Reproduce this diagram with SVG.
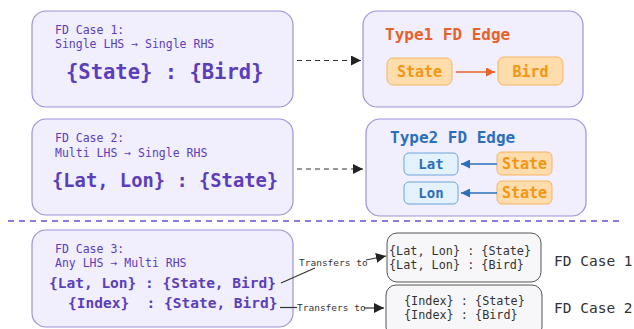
<svg xmlns="http://www.w3.org/2000/svg" width="634" height="329" viewBox="0 0 634 329">
<defs>
<style>
.mono{font-family:"DejaVu Sans Mono","Liberation Mono",monospace}
.case{fill:#f1eefd;stroke:#9f92d8;stroke-width:1.2}
.ptxt{fill:#5a3ebc}
.big{font-weight:bold}
.small{font-size:11.5px}
.orn{fill:#ffdcab;stroke:#f7b463;stroke-width:1}
.orntxt{fill:#f39612;font-weight:bold;font-size:15px}
.blu{fill:#e3f2fd;stroke:#6ea4dc;stroke-width:1}
.blutxt{fill:#2b6fbd;font-weight:bold;font-size:14px}
.res{fill:#f7f7fa;stroke:#555;stroke-width:1}
.restxt{fill:#333;font-size:11.8px}
.lbl{fill:#333;font-size:9.5px}
.conn{stroke:#333;stroke-width:1.2;fill:none}
</style>
<marker id="ah" viewBox="0 0 10 10" refX="10" refY="5" markerWidth="10" markerHeight="10" markerUnits="userSpaceOnUse" orient="auto"><path d="M0,0L10,5L0,10z" fill="#222"/></marker>
<marker id="ahO" viewBox="0 0 10 10" refX="10" refY="5" markerWidth="9" markerHeight="9" markerUnits="userSpaceOnUse" orient="auto"><path d="M0,0L10,5L0,10z" fill="#e8622a"/></marker>
<marker id="ahB" viewBox="0 0 10 10" refX="10" refY="5" markerWidth="9" markerHeight="9" markerUnits="userSpaceOnUse" orient="auto"><path d="M0,0L10,5L0,10z" fill="#2b6fbd"/></marker>
</defs>

<g id="case1">
<rect class="case" x="32" y="11" width="261" height="96" rx="14"/>
<text class="mono ptxt small" x="55" y="34">FD Case 1:</text>
<text class="mono ptxt small" x="55" y="48">Single LHS → Single RHS</text>
<text class="mono ptxt big" x="66" y="79" font-size="20.5">{State} : {Bird}</text>
</g>

<g id="type1">
<rect class="case" x="363" y="11" width="220" height="96" rx="14"/>
<text class="mono big" x="385" y="40" font-size="16" fill="#e6622b">Type1 FD Edge</text>
<g id="t1state"><rect class="orn" x="387" y="58" width="65" height="27" rx="6"/><text class="mono orntxt" x="419.5" y="77" text-anchor="middle">State</text></g>
<g id="t1bird"><rect class="orn" x="498" y="57" width="65" height="28" rx="6"/><text class="mono orntxt" x="530.5" y="77" text-anchor="middle">Bird</text></g>
</g>

<g id="case2">
<rect class="case" x="32" y="119" width="261" height="96" rx="14"/>
<text class="mono ptxt small" x="55" y="142">FD Case 2:</text>
<text class="mono ptxt small" x="55" y="157">Multi LHS → Single RHS</text>
<text class="mono ptxt big" x="52" y="187" font-size="18.8">{Lat, Lon} : {State}</text>
</g>

<g id="type2">
<rect class="case" x="366" y="119" width="220" height="97" rx="14"/>
<text class="mono big" x="390" y="143" font-size="16" fill="#2b6fbd">Type2 FD Edge</text>
<g id="t2lat"><rect class="blu" x="404" y="153" width="54" height="22" rx="5"/><text class="mono blutxt" x="431" y="169" text-anchor="middle">Lat</text></g>
<g id="t2lon"><rect class="blu" x="404" y="182" width="54" height="22" rx="5"/><text class="mono blutxt" x="431" y="198" text-anchor="middle">Lon</text></g>
<g id="t2s1"><rect class="orn" x="497" y="152" width="55" height="23" rx="5"/><text class="mono orntxt" x="524.5" y="169" text-anchor="middle" font-size="14">State</text></g>
<g id="t2s2"><rect class="orn" x="497" y="181" width="55" height="23" rx="5"/><text class="mono orntxt" x="524.5" y="198" text-anchor="middle" font-size="14">State</text></g>
</g>

<line x1="8" y1="221" x2="622" y2="221" stroke="#6a4fcf" stroke-width="1.6" stroke-dasharray="6,5"/>

<g id="case3">
<rect class="case" x="32" y="230" width="261" height="97" rx="14"/>
<text class="mono ptxt small" x="55" y="253">FD Case 3:</text>
<text class="mono ptxt small" x="55" y="267">Any LHS → Multi RHS</text>
<text class="mono ptxt big" x="49" y="288" font-size="14.5">{Lat, Lon} : {State, Bird}</text>
<text class="mono ptxt big" x="68" y="308" font-size="14.5" xml:space="preserve">{Index}  : {State, Bird}</text>
</g>

<g id="res1">
<rect class="res" x="387" y="233" width="154" height="49" rx="10"/>
<text class="mono restxt" x="389" y="255">{Lat, Lon} : {State}</text>
<text class="mono restxt" x="389" y="269">{Lat, Lon} : {Bird}</text>
</g>
<g id="res2">
<rect class="res" x="386" y="285" width="156" height="52" rx="10"/>
<text class="mono restxt" x="404" y="305">{Index} : {State}</text>
<text class="mono restxt" x="404" y="319">{Index} : {Bird}</text>
</g>

<text id="fdc1" class="mono" x="554" y="266" font-size="14.5" fill="#333">FD Case 1</text>
<text id="fdc2" class="mono" x="554" y="313" font-size="14.5" fill="#333">FD Case 2</text>

<g id="connectors">
<line class="conn" x1="297" y1="60.5" x2="361" y2="60.5" stroke="#222" stroke-dasharray="5,4" marker-end="url(#ah)"/>
<line class="conn" x1="297" y1="169" x2="363" y2="169" stroke="#222" stroke-dasharray="5,4" marker-end="url(#ah)"/>
<line x1="456" y1="72" x2="495" y2="72" stroke="#e8622a" stroke-width="1.3" marker-end="url(#ahO)"/>
<line x1="497" y1="164" x2="461" y2="164" stroke="#2b6fbd" stroke-width="1.3" marker-end="url(#ahB)"/>
<line x1="497" y1="193" x2="461" y2="193" stroke="#2b6fbd" stroke-width="1.3" marker-end="url(#ahB)"/>
<line class="conn" x1="281" y1="283" x2="315" y2="268"/>
<text class="mono lbl" x="299" y="266">Transfers to</text>
<line class="conn" x1="366" y1="260" x2="386" y2="256" marker-end="url(#ah)"/>
<line class="conn" x1="280" y1="307.5" x2="297" y2="307.5"/>
<text class="mono lbl" x="297" y="311">Transfers to</text>
<line class="conn" x1="364" y1="308" x2="384" y2="308" marker-end="url(#ah)"/>
</g>
</svg>
